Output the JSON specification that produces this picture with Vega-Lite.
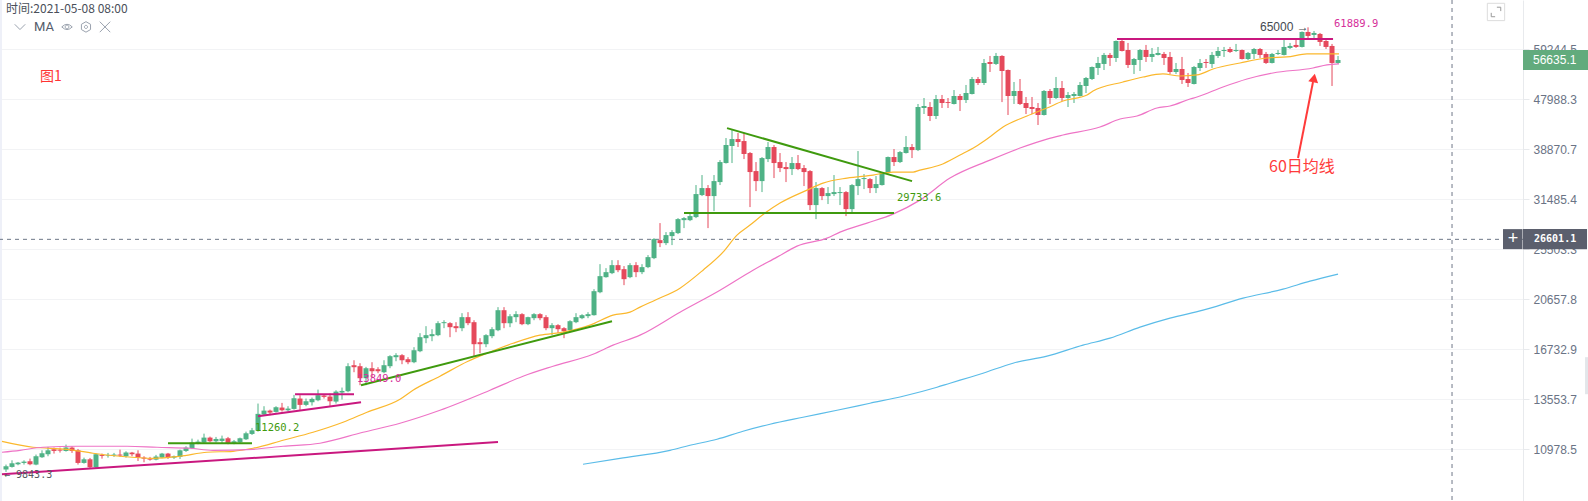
{
"$schema":"https://vega.github.io/schema/vega-lite/v6.json",
"width":1523,"height":501,"autosize":"none",
"padding":{"left":0,"top":0,"right":65,"bottom":0},
"background":"white",
"config":{"view":{"stroke":null},"scale":{"continuousPadding":0}},
"datasets":{
"candles":[
{"i":1,"open":10079,"high":10295,"low":9981,"close":10223},
{"i":2,"open":10194,"high":10482,"low":10165,"close":10352},
{"i":3,"open":10309,"high":10410,"low":10266,"close":10381},
{"i":4,"open":10367,"high":10482,"low":10295,"close":10424},
{"i":5,"open":10439,"high":10557,"low":10266,"close":10309},
{"i":6,"open":10295,"high":10739,"low":10266,"close":10664},
{"i":7,"open":10619,"high":10934,"low":10589,"close":10799},
{"i":8,"open":10754,"high":11091,"low":10664,"close":10934},
{"i":9,"open":10981,"high":11060,"low":10784,"close":10904},
{"i":10,"open":10965,"high":11060,"low":10829,"close":10919},
{"i":11,"open":10904,"high":11201,"low":10874,"close":11060},
{"i":12,"open":11060,"high":11123,"low":10814,"close":10904},
{"i":13,"open":10934,"high":10997,"low":10295,"close":10367},
{"i":14,"open":10367,"high":10602,"low":10338,"close":10527},
{"i":15,"open":10527,"high":10589,"low":10122,"close":10180},
{"i":16,"open":10180,"high":10784,"low":10151,"close":10754},
{"i":17,"open":10724,"high":10784,"low":10557,"close":10679},
{"i":18,"open":10694,"high":10814,"low":10602,"close":10724},
{"i":19,"open":10694,"high":10814,"low":10634,"close":10739},
{"i":20,"open":10739,"high":10965,"low":10634,"close":10694},
{"i":21,"open":10664,"high":10889,"low":10602,"close":10829},
{"i":22,"open":10829,"high":10859,"low":10664,"close":10754},
{"i":23,"open":10784,"high":10934,"low":10453,"close":10602},
{"i":24,"open":10602,"high":10664,"low":10396,"close":10557},
{"i":25,"open":10557,"high":10634,"low":10468,"close":10512},
{"i":26,"open":10512,"high":10724,"low":10482,"close":10649},
{"i":27,"open":10602,"high":10814,"low":10572,"close":10784},
{"i":28,"open":10784,"high":10814,"low":10542,"close":10602},
{"i":29,"open":10602,"high":10694,"low":10542,"close":10664},
{"i":30,"open":10634,"high":10965,"low":10542,"close":10934},
{"i":31,"open":10904,"high":11123,"low":10859,"close":11060},
{"i":32,"open":11029,"high":11486,"low":10997,"close":11295},
{"i":33,"open":11264,"high":11437,"low":11217,"close":11342},
{"i":34,"open":11295,"high":11730,"low":11248,"close":11535},
{"i":35,"open":11535,"high":11584,"low":11311,"close":11358},
{"i":36,"open":11358,"high":11568,"low":11295,"close":11470},
{"i":37,"open":11374,"high":11633,"low":11279,"close":11486},
{"i":38,"open":11503,"high":11568,"low":11217,"close":11279},
{"i":39,"open":11279,"high":11421,"low":11217,"close":11358},
{"i":40,"open":11311,"high":11535,"low":11264,"close":11503},
{"i":41,"open":11454,"high":11828,"low":11421,"close":11747},
{"i":42,"open":11714,"high":12015,"low":11665,"close":11896},
{"i":43,"open":11879,"high":13315,"low":11828,"close":12749},
{"i":44,"open":12711,"high":13166,"low":12676,"close":12925},
{"i":45,"open":12925,"high":12979,"low":12676,"close":12818},
{"i":46,"open":12854,"high":13166,"low":12818,"close":13110},
{"i":47,"open":13092,"high":13352,"low":12872,"close":12943},
{"i":48,"open":12943,"high":13166,"low":12890,"close":13036},
{"i":49,"open":13017,"high":13811,"low":12979,"close":13617},
{"i":50,"open":13598,"high":13792,"low":12943,"close":13240},
{"i":51,"open":13240,"high":13598,"low":13166,"close":13445},
{"i":52,"open":13389,"high":13656,"low":13203,"close":13578},
{"i":53,"open":13501,"high":14122,"low":13445,"close":13792},
{"i":54,"open":13772,"high":13850,"low":13598,"close":13695},
{"i":55,"open":13714,"high":13889,"low":13184,"close":13445},
{"i":56,"open":13426,"high":14082,"low":13315,"close":14004},
{"i":57,"open":13946,"high":14244,"low":13540,"close":14043},
{"i":58,"open":14024,"high":15783,"low":13966,"close":15585},
{"i":59,"open":15651,"high":15981,"low":15195,"close":15519},
{"i":60,"open":15585,"high":15783,"low":14385,"close":14815},
{"i":61,"open":14815,"high":15540,"low":14385,"close":15453},
{"i":62,"open":15453,"high":15849,"low":14878,"close":15258},
{"i":63,"open":15387,"high":15519,"low":15132,"close":15258},
{"i":64,"open":15195,"high":15981,"low":15132,"close":15651},
{"i":65,"open":15585,"high":16325,"low":15453,"close":16257},
{"i":66,"open":16188,"high":16463,"low":15915,"close":16325},
{"i":67,"open":16325,"high":16400,"low":15717,"close":15981},
{"i":68,"open":16050,"high":16188,"low":15717,"close":15849},
{"i":69,"open":15849,"high":16886,"low":15783,"close":16670},
{"i":70,"open":16601,"high":17913,"low":16532,"close":17613},
{"i":71,"open":17538,"high":18449,"low":17172,"close":17763},
{"i":72,"open":17688,"high":18215,"low":17316,"close":17838},
{"i":73,"open":17763,"high":18840,"low":17688,"close":18684},
{"i":74,"open":18684,"high":18918,"low":18293,"close":18762},
{"i":75,"open":18684,"high":18762,"low":17613,"close":18371},
{"i":76,"open":18449,"high":18762,"low":17987,"close":18293},
{"i":77,"open":18293,"high":19488,"low":18062,"close":19164},
{"i":78,"open":19164,"high":19570,"low":18527,"close":18684},
{"i":79,"open":18762,"high":18918,"low":16257,"close":17100},
{"i":80,"open":17244,"high":17538,"low":16463,"close":17100},
{"i":81,"open":17100,"high":17838,"low":16886,"close":17763},
{"i":82,"open":17688,"high":18371,"low":17538,"close":18215},
{"i":83,"open":18137,"high":19988,"low":18062,"close":19733},
{"i":84,"open":19733,"high":19988,"low":18293,"close":18684},
{"i":85,"open":18684,"high":19406,"low":18371,"close":19246},
{"i":86,"open":19164,"high":19651,"low":18762,"close":19406},
{"i":87,"open":19406,"high":19488,"low":18527,"close":18606},
{"i":88,"open":18606,"high":19200,"low":18527,"close":19164},
{"i":89,"open":19082,"high":19488,"low":18918,"close":19406},
{"i":90,"open":19406,"high":19488,"low":18918,"close":19082},
{"i":91,"open":19164,"high":19324,"low":18137,"close":18293},
{"i":92,"open":18293,"high":18684,"low":17763,"close":18527},
{"i":93,"open":18527,"high":18606,"low":17913,"close":18215},
{"i":94,"open":18293,"high":18371,"low":17538,"close":18062},
{"i":95,"open":18137,"high":18918,"low":18062,"close":18840},
{"i":96,"open":18762,"high":19488,"low":18684,"close":19164},
{"i":97,"open":19082,"high":19406,"low":19000,"close":19324},
{"i":98,"open":19246,"high":19570,"low":19082,"close":19406},
{"i":99,"open":19324,"high":21562,"low":19290,"close":21381},
{"i":100,"open":21286,"high":23960,"low":21197,"close":22778},
{"i":101,"open":22682,"high":23560,"low":22634,"close":23166},
{"i":102,"open":23070,"high":24365,"low":22973,"close":23860},
{"i":103,"open":23860,"high":24365,"low":23166,"close":23359},
{"i":104,"open":23460,"high":23763,"low":21930,"close":22490},
{"i":105,"open":22682,"high":24062,"low":22586,"close":23860},
{"i":106,"open":23860,"high":24163,"low":22682,"close":23166},
{"i":107,"open":23166,"high":23960,"low":22973,"close":23661},
{"i":108,"open":23661,"high":24890,"low":23560,"close":24680},
{"i":109,"open":24575,"high":26738,"low":24470,"close":26624},
{"i":110,"open":26510,"high":28486,"low":25745,"close":26180},
{"i":111,"open":26180,"high":27424,"low":25963,"close":27081},
{"i":112,"open":26967,"high":27652,"low":25963,"close":27424},
{"i":113,"open":27310,"high":29091,"low":27196,"close":28967},
{"i":114,"open":28843,"high":29215,"low":27890,"close":29091},
{"i":115,"open":28843,"high":29712,"low":28724,"close":29339},
{"i":116,"open":29215,"high":33438,"low":29091,"close":32192},
{"i":117,"open":32057,"high":34878,"low":31921,"close":33015},
{"i":118,"open":33015,"high":33438,"low":27890,"close":31921},
{"i":119,"open":31921,"high":34878,"low":29961,"close":34002},
{"i":120,"open":33861,"high":37148,"low":33438,"close":36841},
{"i":121,"open":36688,"high":40766,"low":36614,"close":39584},
{"i":122,"open":39417,"high":42159,"low":36688,"close":40592},
{"i":123,"open":40592,"high":41637,"low":39250,"close":40084},
{"i":124,"open":40251,"high":41637,"low":37308,"close":38109},
{"i":125,"open":38269,"high":38429,"low":30474,"close":35320},
{"i":126,"open":35467,"high":36841,"low":32598,"close":34002},
{"i":127,"open":34002,"high":37628,"low":32463,"close":37468},
{"i":128,"open":37308,"high":40084,"low":36841,"close":39250},
{"i":129,"open":39250,"high":39584,"low":34437,"close":36688},
{"i":130,"open":36841,"high":38269,"low":35320,"close":35920},
{"i":131,"open":36073,"high":36841,"low":33861,"close":35767},
{"i":132,"open":35767,"high":37628,"low":34878,"close":36688},
{"i":133,"open":36688,"high":37949,"low":35614,"close":35767},
{"i":134,"open":35920,"high":36381,"low":33297,"close":35320},
{"i":135,"open":35467,"high":35614,"low":30085,"close":30733},
{"i":136,"open":30733,"high":33861,"low":28967,"close":33015},
{"i":137,"open":33015,"high":33156,"low":31381,"close":31921},
{"i":138,"open":31921,"high":33156,"low":30866,"close":32327},
{"i":139,"open":32192,"high":34878,"low":31921,"close":32463},
{"i":140,"open":32327,"high":33156,"low":30733,"close":32463},
{"i":141,"open":32463,"high":32598,"low":29339,"close":30215},
{"i":142,"open":30215,"high":33579,"low":29837,"close":33438},
{"i":143,"open":33297,"high":38589,"low":32057,"close":34290},
{"i":144,"open":34290,"high":35025,"low":32874,"close":34437},
{"i":145,"open":34290,"high":34437,"low":32327,"close":33015},
{"i":146,"open":33015,"high":34731,"low":32327,"close":33579},
{"i":147,"open":33438,"high":35320,"low":33368,"close":35173},
{"i":148,"open":35173,"high":37708,"low":35100,"close":37628},
{"i":149,"open":37628,"high":38916,"low":36229,"close":36841},
{"i":150,"open":36841,"high":38589,"low":36688,"close":38429},
{"i":151,"open":38269,"high":41114,"low":38190,"close":39250},
{"i":152,"open":39250,"high":39750,"low":37468,"close":38749},
{"i":153,"open":38749,"high":47052,"low":38589,"close":46462},
{"i":154,"open":46265,"high":48258,"low":45110,"close":46660},
{"i":155,"open":46462,"high":47434,"low":43793,"close":44733},
{"i":156,"open":44733,"high":48876,"low":44165,"close":48052},
{"i":157,"open":48052,"high":48876,"low":46265,"close":47252},
{"i":158,"open":47434,"high":48258,"low":46265,"close":47252},
{"i":159,"open":47054,"high":49906,"low":46960,"close":48670},
{"i":160,"open":48670,"high":49078,"low":45680,"close":47846},
{"i":161,"open":47846,"high":50981,"low":47252,"close":49288},
{"i":162,"open":49078,"high":52728,"low":48980,"close":52280},
{"i":163,"open":52280,"high":52728,"low":50981,"close":51411},
{"i":164,"open":51411,"high":56881,"low":50981,"close":55935},
{"i":165,"open":56169,"high":57613,"low":53850,"close":55701},
{"i":166,"open":55701,"high":58345,"low":55467,"close":57613},
{"i":167,"open":57613,"high":57800,"low":47434,"close":54074},
{"i":168,"open":54298,"high":54415,"low":44922,"close":48670},
{"i":169,"open":48670,"high":51626,"low":47054,"close":49700},
{"i":170,"open":49700,"high":52280,"low":46858,"close":47054},
{"i":171,"open":47252,"high":48464,"low":45110,"close":46265},
{"i":172,"open":46462,"high":48464,"low":45110,"close":46067},
{"i":173,"open":46265,"high":47252,"low":43067,"close":44922},
{"i":174,"open":44922,"high":49906,"low":44827,"close":49700},
{"i":175,"open":49700,"high":50121,"low":47054,"close":48258},
{"i":176,"open":48258,"high":52728,"low":48052,"close":50336},
{"i":177,"open":50336,"high":51841,"low":47649,"close":48258},
{"i":178,"open":48258,"high":49494,"low":46462,"close":48876},
{"i":179,"open":48670,"high":49494,"low":47252,"close":49078},
{"i":180,"open":48670,"high":51626,"low":48570,"close":50981},
{"i":181,"open":50766,"high":52728,"low":49288,"close":52504},
{"i":182,"open":52280,"high":55110,"low":52056,"close":54996},
{"i":183,"open":54766,"high":57369,"low":53177,"close":55935},
{"i":184,"open":55701,"high":58345,"low":54298,"close":57857},
{"i":185,"open":57857,"high":58345,"low":55233,"close":57125},
{"i":186,"open":57125,"high":61490,"low":56169,"close":61366},
{"i":187,"open":61366,"high":61620,"low":58710,"close":58833},
{"i":188,"open":59077,"high":60857,"low":54766,"close":55467},
{"i":189,"open":55467,"high":57125,"low":53401,"close":56881},
{"i":190,"open":56637,"high":59331,"low":54074,"close":59077},
{"i":191,"open":59077,"high":60349,"low":56169,"close":57369},
{"i":192,"open":57369,"high":59585,"low":56169,"close":58101},
{"i":193,"open":57857,"high":59839,"low":57735,"close":58345},
{"i":194,"open":58101,"high":58589,"low":55467,"close":57125},
{"i":195,"open":57369,"high":58589,"low":53401,"close":53850},
{"i":196,"open":53850,"high":55935,"low":53401,"close":54532},
{"i":197,"open":54532,"high":57369,"low":51196,"close":52056},
{"i":198,"open":52280,"high":53625,"low":50551,"close":51411},
{"i":199,"open":51196,"high":55233,"low":51090,"close":54996},
{"i":200,"open":54766,"high":56881,"low":54074,"close":55935},
{"i":201,"open":56169,"high":56881,"low":54766,"close":55935},
{"i":202,"open":55701,"high":58589,"low":54766,"close":57857},
{"i":203,"open":57613,"high":59839,"low":57125,"close":58833},
{"i":204,"open":58833,"high":59839,"low":57369,"close":59077},
{"i":205,"open":59331,"high":59839,"low":58345,"close":58589},
{"i":206,"open":58833,"high":60603,"low":58589,"close":59077},
{"i":207,"open":59077,"high":59200,"low":56759,"close":56881},
{"i":208,"open":56881,"high":58589,"low":56637,"close":58345},
{"i":209,"open":58101,"high":59585,"low":56881,"close":59331},
{"i":210,"open":59331,"high":59585,"low":57125,"close":57857},
{"i":211,"open":58101,"high":58589,"low":55701,"close":55935},
{"i":212,"open":55935,"high":58345,"low":55818,"close":58101},
{"i":213,"open":58101,"high":59077,"low":57857,"close":58345},
{"i":214,"open":57857,"high":61620,"low":57735,"close":59839},
{"i":215,"open":59585,"high":60857,"low":59331,"close":60094},
{"i":216,"open":60349,"high":61620,"low":59585,"close":59839},
{"i":217,"open":59839,"high":63880,"low":59710,"close":63745},
{"i":218,"open":63745,"high":65000,"low":61620,"close":62682},
{"i":219,"open":62948,"high":64009,"low":62152,"close":63479},
{"i":220,"open":63213,"high":63479,"low":60094,"close":61112},
{"i":221,"open":61366,"high":61886,"low":59331,"close":59839},
{"i":222,"open":60094,"high":60603,"low":50766,"close":55935},
{"i":223,"open":55935,"high":57613,"low":55701,"close":56635}
],
"ma":[
{"s":"ma20","i":0.33,"p":11356},{"s":"ma20","i":5.5,"p":11075},{"s":"ma20","i":11.17,"p":10981},{"s":"ma20","i":15.5,"p":10798},{"s":"ma20","i":20,"p":10663},{"s":"ma20","i":25.5,"p":10572},{"s":"ma20","i":30,"p":10663},{"s":"ma20","i":34.5,"p":10844},{"s":"ma20","i":38.83,"p":10889},{"s":"ma20","i":42.17,"p":11028},{"s":"ma20","i":47.17,"p":11405},{"s":"ma20","i":52.17,"p":11798},{"s":"ma20","i":57.17,"p":12306},{"s":"ma20","i":61.17,"p":12836},{"s":"ma20","i":66.67,"p":13559},{"s":"ma20","i":68.83,"p":14082},{"s":"ma20","i":73.33,"p":14942},{"s":"ma20","i":78,"p":15915},{"s":"ma20","i":81.17,"p":16463},{"s":"ma20","i":85.5,"p":17164},{"s":"ma20","i":90,"p":17763},{"s":"ma20","i":93.83,"p":17987},{"s":"ma20","i":98.33,"p":18527},{"s":"ma20","i":102.17,"p":19325},{"s":"ma20","i":105,"p":19570},{"s":"ma20","i":106.67,"p":19988},{"s":"ma20","i":109.17,"p":20583},{"s":"ma20","i":113.33,"p":21654},{"s":"ma20","i":117.17,"p":23359},{"s":"ma20","i":120.5,"p":25205},{"s":"ma20","i":122.83,"p":27081},{"s":"ma20","i":125,"p":28248},{"s":"ma20","i":127.5,"p":29712},{"s":"ma20","i":130,"p":30996},{"s":"ma20","i":134.5,"p":32733},{"s":"ma20","i":137.17,"p":33720},{"s":"ma20","i":141.17,"p":34437},{"s":"ma20","i":145.5,"p":34878},{"s":"ma20","i":148.83,"p":35320},{"s":"ma20","i":152.17,"p":35320},{"s":"ma20","i":153.33,"p":35614},{"s":"ma20","i":156.67,"p":36381},{"s":"ma20","i":160,"p":37949},{"s":"ma20","i":162.5,"p":39250},{"s":"ma20","i":164.5,"p":40592},{"s":"ma20","i":167.17,"p":42703},{"s":"ma20","i":171.17,"p":44733},{"s":"ma20","i":174.5,"p":46265},{"s":"ma20","i":177.17,"p":47649},{"s":"ma20","i":181.17,"p":48876},{"s":"ma20","i":182.17,"p":49700},{"s":"ma20","i":187.17,"p":51626},{"s":"ma20","i":190.5,"p":52728},{"s":"ma20","i":193.83,"p":53401},{"s":"ma20","i":196.67,"p":52952},{"s":"ma20","i":199.5,"p":53177},{"s":"ma20","i":202.17,"p":54532},{"s":"ma20","i":206.67,"p":55935},{"s":"ma20","i":211.17,"p":57125},{"s":"ma20","i":214.5,"p":57369},{"s":"ma20","i":217.83,"p":58101},{"s":"ma20","i":221.17,"p":58101},{"s":"ma20","i":223.17,"p":58101},
{"s":"ma60","i":0.33,"p":10844},{"s":"ma60","i":3.33,"p":10934},{"s":"ma60","i":7.17,"p":11075},{"s":"ma60","i":12.83,"p":11123},{"s":"ma60","i":21.17,"p":11123},{"s":"ma60","i":26.17,"p":11075},{"s":"ma60","i":31.67,"p":11028},{"s":"ma60","i":35.5,"p":10934},{"s":"ma60","i":42.17,"p":10981},{"s":"ma60","i":47.17,"p":11123},{"s":"ma60","i":53.33,"p":11264},{"s":"ma60","i":60.5,"p":11798},{"s":"ma60","i":66.67,"p":12255},{"s":"ma60","i":73.33,"p":12943},{"s":"ma60","i":81.67,"p":14082},{"s":"ma60","i":87.17,"p":14942},{"s":"ma60","i":92.17,"p":15585},{"s":"ma60","i":98.83,"p":16394},{"s":"ma60","i":102.17,"p":17029},{"s":"ma60","i":106.67,"p":17763},{"s":"ma60","i":113.33,"p":19570},{"s":"ma60","i":120,"p":21470},{"s":"ma60","i":125.5,"p":23359},{"s":"ma60","i":129.5,"p":24680},{"s":"ma60","i":132.83,"p":25853},{"s":"ma60","i":137.83,"p":26738},{"s":"ma60","i":140,"p":27424},{"s":"ma60","i":144.5,"p":28486},{"s":"ma60","i":148.83,"p":29589},{"s":"ma60","i":153.33,"p":31381},{"s":"ma60","i":158.33,"p":34437},{"s":"ma60","i":165,"p":37148},{"s":"ma60","i":170,"p":39084},{"s":"ma60","i":174.5,"p":40592},{"s":"ma60","i":177.17,"p":41288},{"s":"ma60","i":183.33,"p":42703},{"s":"ma60","i":186.67,"p":44165},{"s":"ma60","i":189.5,"p":44733},{"s":"ma60","i":192.83,"p":46265},{"s":"ma60","i":195,"p":46660},{"s":"ma60","i":198.33,"p":48052},{"s":"ma60","i":199.5,"p":48464},{"s":"ma60","i":203.83,"p":50551},{"s":"ma60","i":207.83,"p":52280},{"s":"ma60","i":212.17,"p":53625},{"s":"ma60","i":218.83,"p":54766},{"s":"ma60","i":221.17,"p":55467},{"s":"ma60","i":223.17,"p":55701},
{"s":"ma200","i":97.17,"p":10310},{"s":"ma200","i":103.33,"p":10572},{"s":"ma200","i":111.67,"p":10934},{"s":"ma200","i":115,"p":11170},{"s":"ma200","i":119.5,"p":11454},{"s":"ma200","i":123.83,"p":11847},{"s":"ma200","i":128.33,"p":12204},{"s":"ma200","i":133.83,"p":12569},{"s":"ma200","i":139.5,"p":12943},{"s":"ma200","i":145,"p":13333},{"s":"ma200","i":150.5,"p":13733},{"s":"ma200","i":156.17,"p":14264},{"s":"ma200","i":158.33,"p":14507},{"s":"ma200","i":161.67,"p":14878},{"s":"ma200","i":163.83,"p":15132},{"s":"ma200","i":168.83,"p":15783},{"s":"ma200","i":174.5,"p":16257},{"s":"ma200","i":180.5,"p":17029},{"s":"ma200","i":185,"p":17538},{"s":"ma200","i":190,"p":18371},{"s":"ma200","i":195,"p":19082},{"s":"ma200","i":200.5,"p":19733},{"s":"ma200","i":207.17,"p":20760},{"s":"ma200","i":213.83,"p":21562},{"s":"ma200","i":218.33,"p":22301},{"s":"ma200","i":223,"p":22973}
],
"trends":[
{"t":"a","c":"magenta","i":0.33,"p":9880},{"t":"a","c":"magenta","i":83,"p":11326},
{"t":"b","c":"green","i":28,"p":11260.2},{"t":"b","c":"green","i":42,"p":11260.2},
{"t":"c","c":"magenta","i":43,"p":12622},{"t":"c","c":"magenta","i":60.17,"p":13389},
{"t":"d","c":"magenta","i":49.17,"p":13849},{"t":"d","c":"magenta","i":59,"p":13849},
{"t":"e","c":"green","i":60.17,"p":14385},{"t":"e","c":"green","i":102,"p":18840},
{"t":"f","c":"green","i":121.17,"p":42507},{"t":"f","c":"green","i":152,"p":34002},
{"t":"g","c":"green","i":114,"p":29733.6},{"t":"g","c":"green","i":149,"p":29733.6},
{"t":"h","c":"magenta","i":186.17,"p":61889.9},{"t":"h","c":"magenta","i":222.17,"p":61889.9}
]
},
"layer":[
{
"data":{"values":[{"i":0,"x2":0.33}]},
"mark":{"type":"rect","color":"#eef0f8"},
"encoding":{
"x":{"field":"i","type":"quantitative","scale":{"domain":[0,253.83],"nice":false,"zero":false,"padding":0},"axis":null},
"x2":{"field":"x2"}
}
},
{
"data":{"values":[{"p":59244.5},{"p":47988.3},{"p":38870.7},{"p":31485.4},{"p":25503.3},{"p":20657.8},{"p":16732.9},{"p":13553.7},{"p":10978.5}]},
"mark":{"type":"rule","opacity":0},
"encoding":{
"y":{"field":"p","type":"quantitative","title":null,
"scale":{"type":"log","domain":[8830.6,72935],"nice":false,"zero":false},
"axis":{"orient":"right","values":[59244.5,47988.3,38870.7,31485.4,25503.3,20657.8,16732.9,13553.7,10978.5],"format":".1f","labelFont":"Liberation Sans","labelFontSize":12,"labelColor":"#6a7385","labelPadding":4,"labelOverlap":false,"labelBound":false,"labelFlush":false,"grid":true,"gridColor":"#f2f3f5","gridWidth":1,"domainColor":"#e8eaed","tickColor":"#e8eaed","tickSize":6,"title":null}}
}
},
{
"data":{"values":[{"i":242}]},
"mark":{"type":"rule","color":"#6e7787","strokeDash":[4,4],"strokeWidth":1},
"encoding":{"x":{"field":"i","type":"quantitative"}}
},
{
"data":{"values":[{"p":26601.1}]},
"mark":{"type":"rule","color":"#6e7787","strokeDash":[4,4],"strokeWidth":1},
"encoding":{"y":{"field":"p","type":"quantitative"}}
},
{
"data":{"name":"candles"},
"mark":{"type":"rule","strokeWidth":1},
"encoding":{
"x":{"field":"i","type":"quantitative"},
"y":{"field":"low","type":"quantitative"},
"y2":{"field":"high"},
"color":{"condition":{"test":"datum.close>=datum.open","value":"#4fb286"},"value":"#e5495b"}
}
},
{
"data":{"name":"candles"},
"mark":{"type":"bar","size":5},
"encoding":{
"x":{"field":"i","type":"quantitative","scale":{"padding":0}},
"y":{"field":"open","type":"quantitative"},
"y2":{"field":"close"},
"color":{"condition":{"test":"datum.close>=datum.open","value":"#4fb286"},"value":"#e5495b"}
}
},
{
"data":{"name":"ma"},
"mark":{"type":"line","strokeWidth":1.2,"interpolate":"monotone"},
"encoding":{
"x":{"field":"i","type":"quantitative"},
"y":{"field":"p","type":"quantitative"},
"color":{"field":"s","type":"nominal","legend":null,"scale":{"domain":["ma20","ma60","ma200"],"range":["#fbb82d","#ee74c6","#5bbce8"]}}
}
},
{
"data":{"name":"trends"},
"mark":{"type":"line","strokeWidth":2},
"encoding":{
"x":{"field":"i","type":"quantitative"},
"y":{"field":"p","type":"quantitative"},
"detail":{"field":"t"},
"stroke":{"field":"c","type":"nominal","legend":null,"scale":{"domain":["magenta","green"],"range":["#c9187f","#3f9a0e"]}}
}
},
{
"data":{"values":[{"i":218.83,"p":51626},{"i":216.33,"p":37468}]},
"mark":{"type":"line","color":"#ff3b3b","strokeWidth":2},
"encoding":{"x":{"field":"i","type":"quantitative"},"y":{"field":"p","type":"quantitative"}}
},
{
"data":{"values":[{"i":219,"p":52504}]},
"mark":{"type":"point","shape":"triangle-up","filled":true,"color":"#ff3b3b","opacity":1,"size":100,"angle":11},
"encoding":{"x":{"field":"i","type":"quantitative"},"y":{"field":"p","type":"quantitative"}}
},
{
"data":{"values":[{"label":"← 9843.3","i":0.67,"p":9843}]},
"mark":{"type":"text","font":"DejaVu Sans Mono","fontSize":10,"align":"left","baseline":"middle","color":"#55595f"},
"encoding":{"x":{"field":"i","type":"quantitative"},"y":{"field":"p","type":"quantitative"},"text":{"field":"label"}}
},
{
"data":{"values":[{"label":"11260.2","i":42.5,"p":11999},{"label":"29733.6","i":149.5,"p":31650}]},
"mark":{"type":"text","font":"DejaVu Sans Mono","fontSize":10.5,"align":"left","baseline":"middle","color":"#3f9a0e"},
"encoding":{"x":{"field":"i","type":"quantitative"},"y":{"field":"p","type":"quantitative"},"text":{"field":"label"}}
},
{
"data":{"values":[{"label":"13849.0","i":59.5,"p":14750},{"label":"61889.9","i":222.33,"p":65880}]},
"mark":{"type":"text","font":"DejaVu Sans Mono","fontSize":10.5,"align":"left","baseline":"middle","color":"#d6309a"},
"encoding":{"x":{"field":"i","type":"quantitative"},"y":{"field":"p","type":"quantitative"},"text":{"field":"label"}}
},
{
"data":{"values":[{"label":"65000 →","i":210,"p":65110}]},
"mark":{"type":"text","font":"Liberation Sans","fontSize":12,"align":"left","baseline":"middle","color":"#444950"},
"encoding":{"x":{"field":"i","type":"quantitative"},"y":{"field":"p","type":"quantitative"},"text":{"field":"label"}}
},
{
"data":{"values":[{"label":"时间:2021-05-08 08:00","i":1,"p":70229}]},
"mark":{"type":"text","font":"Noto Sans CJK SC","fontSize":12,"align":"left","baseline":"middle","color":"#4a4f5a"},
"encoding":{"x":{"field":"i","type":"quantitative"},"y":{"field":"p","type":"quantitative"},"text":{"field":"label"}}
},
{
"data":{"values":[{"label":"MA","i":5.67,"p":65110}]},
"mark":{"type":"text","font":"Roboto","fontSize":13,"align":"left","baseline":"middle","color":"#555c6b"},
"encoding":{"x":{"field":"i","type":"quantitative"},"y":{"field":"p","type":"quantitative"},"text":{"field":"label"}}
},
{
"data":{"values":[{"icon":"chevron","i":3.33,"p":65110},{"icon":"eye","i":11.17,"p":65110},{"icon":"gear","i":14.33,"p":65110},{"icon":"close","i":17.5,"p":65110}]},
"mark":{"type":"point","filled":false,"color":"#9aa2ae","strokeWidth":1,"opacity":1,"size":110},
"encoding":{
"x":{"field":"i","type":"quantitative"},
"y":{"field":"p","type":"quantitative"},
"shape":{"field":"icon","type":"nominal","legend":null,"scale":{"domain":["chevron","eye","gear","close"],"range":["M-1,-0.5L0,0.5L1,-0.5","M-1,0Q0,-1 1,0Q0,1 -1,0Z M-0.35,0a0.35,0.35 0 1,0 0.7,0a0.35,0.35 0 1,0 -0.7,0","M0,-1L0.87,-0.5L0.87,0.5L0,1L-0.87,0.5L-0.87,-0.5Z M-0.3,0a0.3,0.3 0 1,0 0.6,0a0.3,0.3 0 1,0 -0.6,0","M-1,-1L1,1M-1,1L1,-1"]}}
}
},
{
"data":{"values":[{"i":249.33,"p":69347}]},
"mark":{"type":"point","shape":"M-1,-1H1V1H-1Z","filled":false,"color":"#dcdcdc","strokeWidth":1,"opacity":1,"size":300},
"encoding":{"x":{"field":"i","type":"quantitative"},"y":{"field":"p","type":"quantitative"}}
},
{
"data":{"values":[{"i":249.33,"p":69347}]},
"mark":{"type":"point","shape":"M0.1,-0.55H0.55V-0.1M-0.55,0.1V0.55H-0.1","filled":false,"color":"#9a9a9a","strokeWidth":1,"opacity":1,"size":300},
"encoding":{"x":{"field":"i","type":"quantitative"},"y":{"field":"p","type":"quantitative"}}
},
{
"data":{"values":[{"label":"图1","i":6.67,"p":52728}]},
"mark":{"type":"text","font":"Noto Sans CJK SC","fontSize":14,"align":"left","baseline":"middle","color":"#ff3333"},
"encoding":{"x":{"field":"i","type":"quantitative"},"y":{"field":"p","type":"quantitative"},"text":{"field":"label"}}
},
{
"data":{"values":[{"label":"60日均线","i":211.5,"p":36073}]},
"mark":{"type":"text","font":"Noto Sans CJK SC","fontSize":16,"align":"left","baseline":"middle","color":"#ff3b3b"},
"encoding":{"x":{"field":"i","type":"quantitative"},"y":{"field":"p","type":"quantitative"},"text":{"field":"label"}}
},
{
"data":{"values":[{"i":253.83,"x2":264.67,"p":54298,"p2":59077,"box":"last"},{"i":253.83,"x2":264.5,"p":25525,"p2":27771,"box":"cross"},{"i":250.5,"x2":253.75,"p":25525,"p2":27771,"box":"cross"},{"i":264.17,"x2":264.67,"p":13849,"p2":16188,"box":"scroll"}]},
"mark":{"type":"rect"},
"encoding":{
"x":{"field":"i","type":"quantitative"},
"x2":{"field":"x2"},
"y":{"field":"p","type":"quantitative"},
"y2":{"field":"p2"},
"color":{"field":"box","type":"nominal","legend":null,"scale":{"domain":["last","cross","scroll"],"range":["#62ab7d","#5b5f6d","#e3e6ea"]}}
}
},
{
"data":{"values":[{"label":"56635.1","i":255.5,"p":56637}]},
"mark":{"type":"text","font":"Liberation Sans","fontSize":12,"align":"left","baseline":"middle","color":"white"},
"encoding":{"x":{"field":"i","type":"quantitative"},"y":{"field":"p","type":"quantitative"},"text":{"field":"label"}}
},
{
"data":{"values":[{"label":"26601.1","i":255.67,"p":26601.1}]},
"mark":{"type":"text","font":"DejaVu Sans Mono","fontSize":10,"align":"left","baseline":"middle","color":"white","fontWeight":"bold"},
"encoding":{"x":{"field":"i","type":"quantitative"},"y":{"field":"p","type":"quantitative"},"text":{"field":"label"}}
},
{
"data":{"values":[{"label":"+","i":252.17,"p":26601.1}]},
"mark":{"type":"text","font":"Liberation Sans","fontSize":18,"align":"center","baseline":"middle","color":"white"},
"encoding":{"x":{"field":"i","type":"quantitative"},"y":{"field":"p","type":"quantitative"},"text":{"field":"label"}}
}
],
"resolve":{"scale":{"color":"independent","shape":"independent"}}
}
